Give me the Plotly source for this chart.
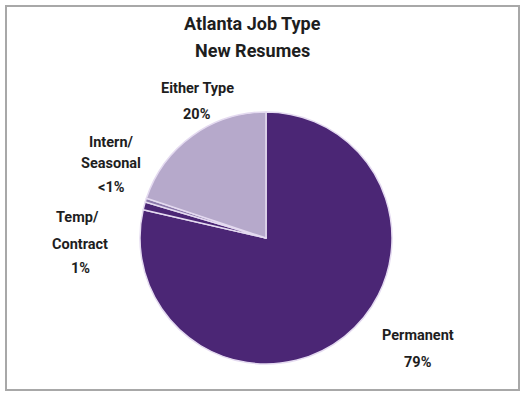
import plotly.graph_objects as go

# Job type mix for new resumes, Atlanta
categories = ["Permanent", "Temp/<br>Contract", "Intern/<br>Seasonal", "Either Type"]
shares = [79, 1, 0.5, 20]
share_labels = ["79%", "1%", "<1%", "20%"]
slice_colors = ["#4b2675", "#4b2675", "#8a78aa", "#b6a9cb"]

W, H = 522, 393
cx, cy, r = 266, 238, 126

fig = go.Figure()
fig.add_trace(go.Pie(
    labels=categories,
    values=shares,
    sort=False,
    direction="clockwise",
    rotation=0,
    marker=dict(colors=slice_colors, line=dict(color="#e4daf0", width=1.5)),
    textinfo="none",
    hoverinfo="label+percent",
    showlegend=False,
    domain=dict(x=[(cx - r) / W, (cx + r) / W], y=[(H - cy - r) / H, (H - cy + r) / H]),
))

font_bold = "Roboto, sans-serif"

# Slice labels: each line placed separately for looser line spacing
label_lines = [
    [(418, 335), (418, 362)],
    [(77, 218), (80, 244), (80, 268)],
    [(111, 142), (111, 164), (111, 187)],
    [(197, 88), (197, 114)],
]
annotations = []
for name, pct, lines in zip(categories, share_labels, label_lines):
    texts = name.split("<br>") + [pct]
    for t, (x, y) in zip(texts, lines):
        annotations.append(dict(
            x=x / W, y=1 - y / H, xref="paper", yref="paper",
            text=f"<b>{t}</b>", showarrow=False,
            font=dict(family=font_bold, size=14.5, color="#1e1e1e"),
            xanchor="center", yanchor="middle",
        ))

# Chart title
for t, y in [("Atlanta Job Type", 24), ("New Resumes", 50)]:
    annotations.append(dict(
        x=252 / W, y=1 - y / H, xref="paper", yref="paper",
        text=f"<b>{t}</b>", showarrow=False,
        font=dict(family=font_bold, size=18, color="#1e1e1e"),
        xanchor="center", yanchor="middle",
    ))

fig.update_layout(
    width=W, height=H,
    margin=dict(l=0, r=0, t=0, b=0),
    paper_bgcolor="white",
    plot_bgcolor="white",
    annotations=annotations,
    shapes=[dict(
        type="rect", xref="paper", yref="paper",
        x0=6 / W, x1=519 / W, y0=1 - 390 / H, y1=1 - 6 / H,
        line=dict(color="#a8a8a8", width=2),
    )],
)

fig.write_html("out.html")
